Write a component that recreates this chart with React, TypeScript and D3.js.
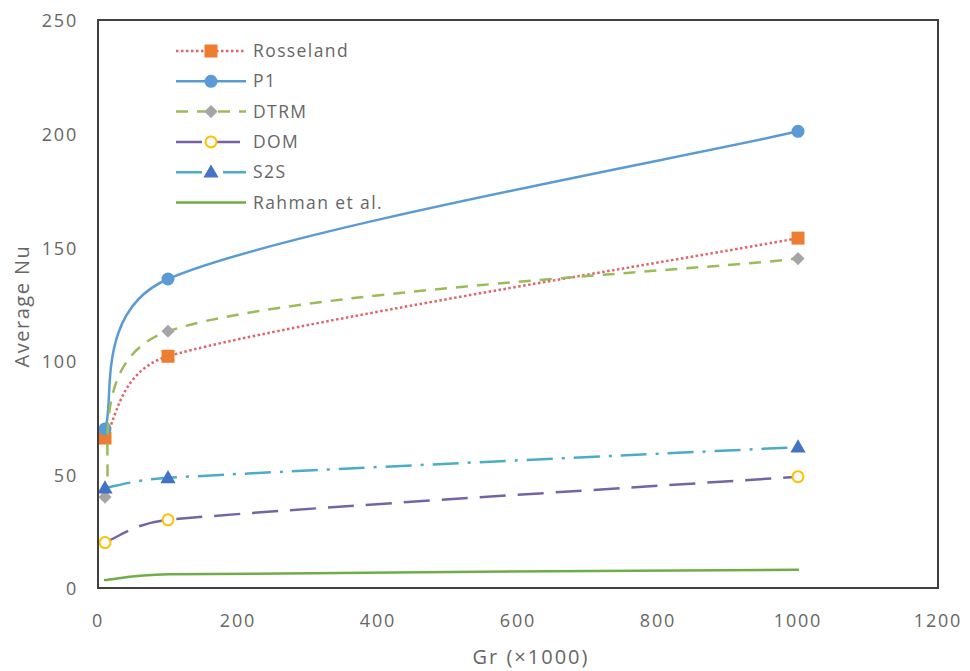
import React from "react";
import * as d3 from "d3";

const WIDTH = 970;
const HEIGHT = 671;
const PLOT = { left: 98, right: 938, top: 20, bottom: 588 };

const GR = [10, 100, 1000];
const ROSSELAND = [66, 102, 154];
const P1 = [70, 136, 201];
const DTRM = [40, 113, 145];
const DOM = [20, 30, 49];
const S2S = [44, 48.5, 62];
const RAHMAN_GR = [10, 100, 1000];
const RAHMAN = [3.5, 6, 8];

const X_TICKS = [0, 200, 400, 600, 800, 1000, 1200];
const Y_TICKS = [0, 50, 100, 150, 200, 250];

type Series = {
  name: string;
  xs: number[];
  ys: number[];
  stroke: string;
  dash: string;
  cap: "butt" | "round";
  marker: "square" | "circle" | "diamond" | "ring" | "triangle" | "none";
  markerFill: string;
  markerStroke: string;
};

const SERIES: Series[] = [
  { name: "Rosseland", xs: GR, ys: ROSSELAND, stroke: "#e0646a", dash: "2.5,2.5", cap: "butt", marker: "square", markerFill: "#ed7d31", markerStroke: "#ed7d31" },
  { name: "P1", xs: GR, ys: P1, stroke: "#5b9bd5", dash: "", cap: "round", marker: "circle", markerFill: "#5b9bd5", markerStroke: "#5b9bd5" },
  { name: "DTRM", xs: GR, ys: DTRM, stroke: "#9bbb59", dash: "12,9", cap: "butt", marker: "diamond", markerFill: "#a5a5a5", markerStroke: "#a5a5a5" },
  { name: "DOM", xs: GR, ys: DOM, stroke: "#7464a6", dash: "26,12", cap: "butt", marker: "ring", markerFill: "#ffffff", markerStroke: "#ffc000" },
  { name: "S2S", xs: GR, ys: S2S, stroke: "#4bacc6", dash: "26,9,3,9", cap: "butt", marker: "triangle", markerFill: "#4472c4", markerStroke: "#4472c4" },
  { name: "Rahman et al.", xs: RAHMAN_GR, ys: RAHMAN, stroke: "#70ad47", dash: "", cap: "round", marker: "none", markerFill: "none", markerStroke: "none" },
];

const FONT = "'Open Sans', 'Noto Sans', sans-serif";
const TEXT = "#666666";

// excel style smoothing: catmull-rom tangents, but the handle is capped by the
// length of the segment it sits in so short segments don't loop back
function smoothPath(pts: [number, number][], cap = 0.5) {
  const p = d3.path();
  const n = pts.length;
  const tan = pts.map((pt, i) => {
    const a = pts[Math.max(0, i - 1)];
    const b = pts[Math.min(n - 1, i + 1)];
    return [(b[0] - a[0]) / 6, (b[1] - a[1]) / 6];
  });
  const clamp = (t: number[], len: number) => {
    const m = Math.hypot(t[0], t[1]);
    const k = m > cap * len ? (cap * len) / m : 1;
    return [t[0] * k, t[1] * k];
  };
  p.moveTo(pts[0][0], pts[0][1]);
  for (let i = 0; i < n - 1; i++) {
    const a = pts[i];
    const b = pts[i + 1];
    const len = Math.hypot(b[0] - a[0], b[1] - a[1]);
    const t0 = clamp(tan[i], len);
    const t1 = clamp(tan[i + 1], len);
    p.bezierCurveTo(a[0] + t0[0], a[1] + t0[1], b[0] - t1[0], b[1] - t1[1], b[0], b[1]);
  }
  return p.toString();
}

const Marker = ({ kind, x, y, fill, stroke }: { kind: Series["marker"]; x: number; y: number; fill: string; stroke: string }) => {
  if (kind === "square") return <rect x={x - 6.5} y={y - 6.5} width={13} height={13} fill={fill} />;
  if (kind === "circle") return <circle cx={x} cy={y} r={6.5} fill={fill} />;
  if (kind === "ring") return <circle cx={x} cy={y} r={5.5} fill={fill} stroke={stroke} strokeWidth={2} />;
  if (kind === "diamond") {
    const p = d3.symbol(d3.symbolDiamond2, 110)() as string;
    return <path d={p} transform={`translate(${x},${y})`} fill={fill} />;
  }
  if (kind === "triangle") {
    const p = d3.symbol(d3.symbolTriangle, 100)() as string;
    return <path d={p} transform={`translate(${x},${y + 1})`} fill={fill} />;
  }
  return null;
};

export default function App() {
  const x = d3.scaleLinear().domain([0, 1200]).range([PLOT.left, PLOT.right]);
  const y = d3.scaleLinear().domain([0, 250]).range([PLOT.bottom, PLOT.top]);

  const legendX0 = 176;
  const legendX1 = 246;
  const legendY0 = 51;
  const legendStep = 30.3;

  return (
    <svg width={WIDTH} height={HEIGHT} style={{ position: "absolute", left: 0, top: 0, background: "#fff" }}>
      {SERIES.map((s) => {
        const pts = s.xs.map((v, i) => [x(v), y(s.ys[i])] as [number, number]);
        return (
          <g key={s.name}>
            <path
              d={smoothPath(pts)}
              fill="none"
              stroke={s.stroke}
              strokeWidth={2.5}
              strokeDasharray={s.dash || undefined}
              strokeLinecap={s.cap}
            />
            {s.marker !== "none" &&
              pts.map((p, i) => (
                <Marker key={i} kind={s.marker} x={p[0]} y={p[1]} fill={s.markerFill} stroke={s.markerStroke} />
              ))}
          </g>
        );
      })}

      {/* plot frame */}
      <rect
        x={PLOT.left}
        y={PLOT.top}
        width={PLOT.right - PLOT.left}
        height={PLOT.bottom - PLOT.top}
        fill="none"
        stroke="#404040"
        strokeWidth={2}
      />

      {Y_TICKS.map((t) => (
        <text key={t} x={78} y={y(t) + 1} dy="0.35em" textAnchor="end" fontFamily={FONT} fontSize={18} letterSpacing={1.8} fill={TEXT}>
          {t}
        </text>
      ))}
      {X_TICKS.map((t) => (
        <text key={t} x={x(t)} y={621} dy="0.35em" textAnchor="middle" fontFamily={FONT} fontSize={18} letterSpacing={1.8} fill={TEXT}>
          {t}
        </text>
      ))}

      <text
        transform={`translate(22,306) rotate(-90)`}
        textAnchor="middle"
        dy="0.35em"
        fontFamily={FONT}
        fontSize={20}
        letterSpacing={1.5}
        fill={TEXT}
      >
        Average Nu
      </text>
      <text x={531} y={657} dy="0.35em" textAnchor="middle" fontFamily={FONT} fontSize={20} letterSpacing={2} fill={TEXT}>
        Gr (×1000)
      </text>

      {SERIES.map((s, i) => {
        const ly = legendY0 + i * legendStep;
        return (
          <g key={s.name}>
            <line
              x1={legendX0}
              x2={legendX1}
              y1={ly}
              y2={ly}
              stroke={s.stroke}
              strokeWidth={2.5}
              strokeDasharray={s.dash || undefined}
            />
            {s.marker !== "none" && (
              <Marker kind={s.marker} x={(legendX0 + legendX1) / 2} y={ly} fill={s.markerFill} stroke={s.markerStroke} />
            )}
            <text x={253} y={ly} dy="0.35em" fontFamily={FONT} fontSize={17.5} letterSpacing={1.4} fill={TEXT}>
              {s.name}
            </text>
          </g>
        );
      })}
    </svg>
  );
}
